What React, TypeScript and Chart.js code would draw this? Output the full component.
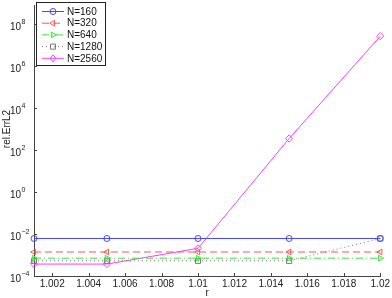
import React, { useEffect, useRef } from "react";
import { Chart, registerables } from "chart.js";

Chart.register(...registerables);

// ---- data ----
const R_VALUES = [1.001, 1.005, 1.01, 1.015, 1.02];
const SERIES_NAMES = ["N=160", "N=320", "N=640", "N=1280", "N=2560"];
const N160 = [6.1e-3, 6.1e-3, 6.1e-3, 6.1e-3, 6.1e-3];
const N320 = [1.39e-3, 1.39e-3, 1.39e-3, 1.39e-3, 1.39e-3];
const N640 = [7.05e-4, 7.05e-4, 7.05e-4, 7.05e-4, 7.05e-4];
const N1280 = [5.26e-4, 5.26e-4, 5.26e-4, 5.26e-4, 6.1e-3];
const N2560 = [3.7e-4, 3.7e-4, 2.07e-3, 349, 2.6e7];
const X_TICKS = [1.002, 1.004, 1.006, 1.008, 1.01, 1.012, 1.014, 1.016, 1.018, 1.02];
const Y_TICK_EXPONENTS = [-4, -2, 0, 2, 4, 6, 8];
const X_TITLE = "r";
const Y_TITLE = "rel.ErrL2";

// ---- styles ----
const COLORS = ["rgb(70,70,255)", "rgb(255,85,85)", "rgb(60,225,60)", "rgb(120,120,120)", "rgb(255,60,255)"];
const DASHES: number[][] = [[], [7, 4], [7, 3, 1, 3], [1, 3], []];
const MARKERS = ["circle", "triangle", "triangle", "rect", "rectRot"];
const ROTATIONS = [0, -90, 90, 0, 0];
const RADII = [3, 3.3, 3.3, 3.6, 3.6];
const FONT = "'Liberation Sans', Arial, sans-serif";

const SERIES = [N160, N320, N640, N1280, N2560];

function drawMarker(ctx: CanvasRenderingContext2D, style: string, rot: number, x: number, y: number, r: number) {
  ctx.beginPath();
  if (style === "circle") {
    ctx.arc(x, y, r, 0, Math.PI * 2);
  } else if (style === "triangle") {
    const a = (rot * Math.PI) / 180;
    for (let i = 0; i < 3; i++) {
      const ang = a + (i * 2 * Math.PI) / 3;
      const px = x + Math.sin(ang) * r;
      const py = y - Math.cos(ang) * r;
      if (i === 0) ctx.moveTo(px, py);
      else ctx.lineTo(px, py);
    }
    ctx.closePath();
  } else if (style === "rect") {
    const s = r * Math.SQRT1_2;
    ctx.rect(x - s, y - s, 2 * s, 2 * s);
  } else if (style === "rectRot") {
    ctx.moveTo(x, y - r);
    ctx.lineTo(x + r * 0.8, y);
    ctx.lineTo(x, y + r);
    ctx.lineTo(x - r * 0.8, y);
    ctx.closePath();
  }
  ctx.stroke();
}

const decorPlugin = {
  id: "decor",
  afterDraw(chart: any) {
    const ctx: CanvasRenderingContext2D = chart.ctx;
    const area = chart.chartArea;
    const xs = chart.scales.x;
    const ys = chart.scales.y;
    ctx.save();
    // inward ticks
    ctx.strokeStyle = "#444";
    ctx.lineWidth = 1;
    ctx.setLineDash([]);
    ctx.beginPath();
    X_TICKS.forEach((v) => {
      const px = Math.round(xs.getPixelForValue(v)) + 0.5;
      ctx.moveTo(px, area.bottom);
      ctx.lineTo(px, area.bottom - 3);
    });
    Y_TICK_EXPONENTS.forEach((e) => {
      const py = Math.round(ys.getPixelForValue(Math.pow(10, e))) + 0.5;
      ctx.moveTo(area.left, py);
      ctx.lineTo(area.left + 3, py);
    });
    ctx.stroke();

    // y tick labels with superscripts
    ctx.fillStyle = "#222";
    Y_TICK_EXPONENTS.forEach((e) => {
      const py = ys.getPixelForValue(Math.pow(10, e));
      ctx.font = `10px ${FONT}`;
      ctx.textAlign = "right";
      ctx.textBaseline = "middle";
      ctx.fillText("10", 21, py + 3);
      ctx.font = `7px ${FONT}`;
      ctx.textAlign = "left";
      ctx.fillText(String(e).replace("-", "\u2212"), 21.5, py - 2);
    });

    // axis titles
    ctx.font = `10px ${FONT}`;
    ctx.textAlign = "center";
    ctx.textBaseline = "alphabetic";
    ctx.fillText(X_TITLE, (area.left + area.right) / 2, 296);
    ctx.save();
    ctx.translate(10, 129);
    ctx.rotate(-Math.PI / 2);
    ctx.textBaseline = "alphabetic";
    ctx.fillText(Y_TITLE, 0, 0);
    ctx.restore();

    // legend
    const bx = 36.5, by = 2.5, bw = 69, bh = 63;
    ctx.fillStyle = "#fff";
    ctx.fillRect(bx, by, bw, bh);
    ctx.strokeStyle = "#222";
    ctx.lineWidth = 1;
    ctx.strokeRect(bx, by, bw, bh);
    SERIES_NAMES.forEach((name, i) => {
      const y = 11.5 + i * 11.7;
      ctx.strokeStyle = COLORS[i];
      ctx.lineWidth = 1;
      ctx.setLineDash(DASHES[i]);
      ctx.beginPath();
      ctx.moveTo(42, y);
      ctx.lineTo(64, y);
      ctx.stroke();
      ctx.setLineDash([]);
      drawMarker(ctx, MARKERS[i], ROTATIONS[i], 53, y, RADII[i]);
      ctx.fillStyle = "#111";
      ctx.font = `10px ${FONT}`;
      ctx.textAlign = "left";
      ctx.textBaseline = "middle";
      ctx.fillText(name, 67, y + 0.5);
    });
    ctx.restore();
  },
};

export default function App() {
  const ref = useRef<HTMLCanvasElement | null>(null);
  useEffect(() => {
    if (!ref.current) return;
    const datasets = SERIES.map((vals, i) => ({
      label: SERIES_NAMES[i],
      data: R_VALUES.map((r, j) => ({ x: r, y: vals[j] })),
      borderColor: COLORS[i],
      backgroundColor: "transparent",
      borderWidth: 1,
      borderDash: DASHES[i],
      pointStyle: MARKERS[i] as any,
      pointRotation: ROTATIONS[i],
      pointRadius: RADII[i],
      pointBorderWidth: 1,
      pointBorderColor: COLORS[i],
      pointBackgroundColor: "transparent",
      tension: 0,
      clip: false as any,
    }));
    const chart = new Chart(ref.current, {
      type: "line",
      data: { datasets },
      options: {
        animation: false,
        responsive: false,
        devicePixelRatio: 1,
        layout: { padding: { left: 0, right: 10, top: 0, bottom: 0 } },
        plugins: { legend: { display: false }, tooltip: { enabled: false } },
        scales: {
          x: {
            type: "linear",
            min: 1.001,
            max: 1.02,
            grid: { display: false, drawTicks: false, tickLength: 0 },
            border: { display: true, color: "#444", width: 1 },
            ticks: {
              color: "#222",
              font: { size: 10, family: FONT },
              padding: 2,
              maxRotation: 0,
              autoSkip: false,
              callback: (v: any) => String(v),
            },
            afterBuildTicks: (s: any) => {
              s.ticks = X_TICKS.map((v) => ({ value: v }));
            },
            afterFit: (s: any) => {
              s.height = 22;
            },
          },
          y: {
            type: "logarithmic",
            min: 1e-4,
            max: Math.pow(10, 8.9),
            grid: { display: false, drawTicks: false, tickLength: 0 },
            border: { display: true, color: "#444", width: 1 },
            ticks: { display: false },
            afterBuildTicks: (s: any) => {
              s.ticks = Y_TICK_EXPONENTS.map((e) => ({ value: Math.pow(10, e) }));
            },
            afterFit: (s: any) => {
              s.width = 34;
            },
          },
        },
      },
      plugins: [decorPlugin],
    });
    return () => chart.destroy();
  }, []);
  return (
    <div style={{ position: "absolute", left: 0, top: 0, width: 392, height: 298, background: "#fff" }}>
      <canvas ref={ref} width={392} height={298} style={{ width: 392, height: 298, display: "block" }} />
    </div>
  );
}
